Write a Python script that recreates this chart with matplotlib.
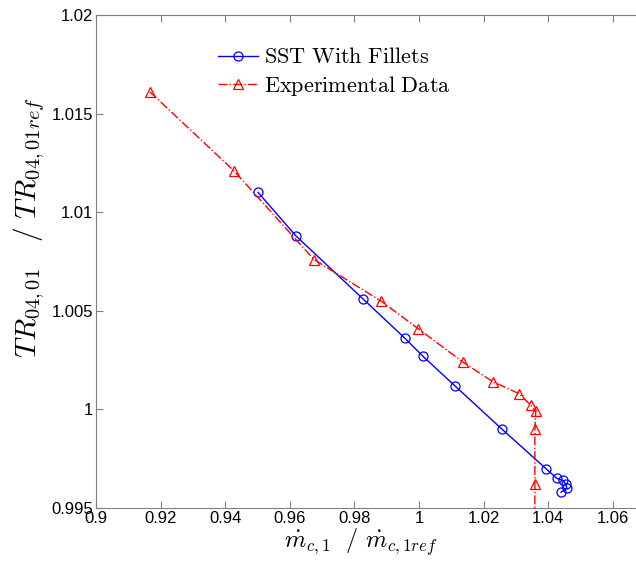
import matplotlib
matplotlib.use('Agg')
import matplotlib.pyplot as plt
from matplotlib.ticker import FuncFormatter

# SST With Fillets
sst_x = [0.9502, 0.9619, 0.9827, 0.9957, 1.0012, 1.0111, 1.0257, 1.0393, 1.0427, 1.0446, 1.0455, 1.0458, 1.0440]
sst_y = [1.0110, 1.0088, 1.0056, 1.0036, 1.0027, 1.0012, 0.9990, 0.9970, 0.9965, 0.9964, 0.9962, 0.9960, 0.9958]

# Experimental Data
exp_x = [0.9167, 0.9427, 0.9675, 0.9882, 0.9997, 1.0136, 1.0229, 1.0310, 1.0347, 1.0362, 1.0359, 1.0359, 1.0359]
exp_y = [1.0161, 1.0121, 1.0076, 1.0055, 1.0041, 1.0024, 1.0014, 1.0008, 1.0002, 0.9999, 0.9990, 0.9962, 0.9938]

x_ticks = [0.9, 0.92, 0.94, 0.96, 0.98, 1.0, 1.02, 1.04, 1.06]
y_ticks = [0.995, 1.0, 1.005, 1.01, 1.015, 1.02]

plt.rcParams['mathtext.fontset'] = 'cm'
plt.rcParams['font.family'] = ['Liberation Sans', 'DejaVu Sans']

fig = plt.figure(figsize=(6.36, 5.68), dpi=100)
ax = fig.add_axes([96/636, 60/568, 549/636, 493/568])

ax.plot(sst_x, sst_y, '-', color='#0000ff', lw=1.0, marker='o', ms=6.5,
        mfc='none', mec='#0000ff', mew=0.9, label=r'$\mathrm{SST\ With\ Fillets}$')
ax.plot(exp_x, exp_y, '-.', color='#ff0000', lw=1.0, marker='^', ms=7,
        mfc='none', mec='#ff0000', mew=0.9, label=r'$\mathrm{Experimental\ Data}$')

ax.set_xlim(0.9, 1.07)
ax.set_ylim(0.995, 1.02)
ax.set_xticks(x_ticks)
ax.set_yticks(y_ticks)
fmt = FuncFormatter(lambda v, p: '%g' % round(v, 4))
ax.xaxis.set_major_formatter(fmt)
ax.yaxis.set_major_formatter(fmt)
ax.tick_params(direction='in', length=5, width=0.8, color='#808080',
               labelsize=12, top=True, right=True, pad=2)
for s in ax.spines.values():
    s.set_color('#808080')
    s.set_linewidth(0.8)

ax.set_xlabel(r'$\dot{m}_{c,1}\ \ /\ \dot{m}_{c,1ref}$', fontsize=17.5)
ax.set_ylabel(r'$TR_{04,01}\ \ \ /\ TR_{04,01ref}$', fontsize=21)
ax.xaxis.set_label_coords(0.483, -0.038)
ax.yaxis.set_label_coords(-0.089, 0.568)

ax.legend(loc='upper left', bbox_to_anchor=(0.186, 0.975), frameon=False,
          fontsize=16, handlelength=1.8, handletextpad=0.28, labelspacing=0.25)

fig.savefig('out.png', dpi=100)
